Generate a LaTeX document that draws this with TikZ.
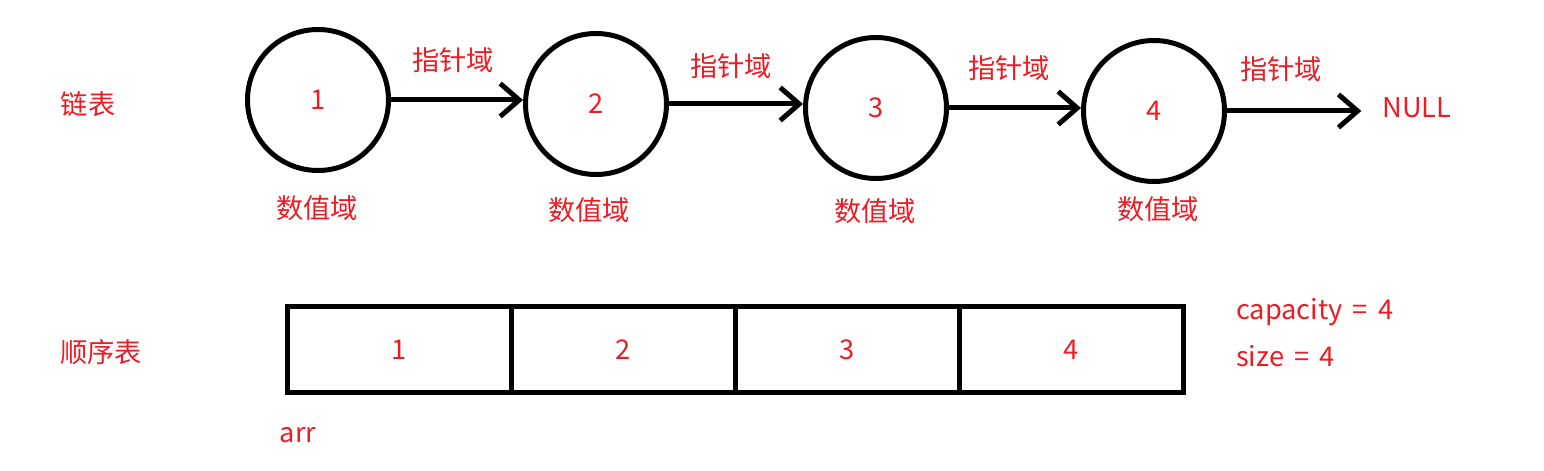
\documentclass[tikz,border=0pt]{standalone}
\usepackage{fontspec}
\newfontfamily\cjk{Noto Sans CJK SC}
\usetikzlibrary{arrows.meta,positioning}
\definecolor{labelred}{RGB}{237,28,36}
\begin{document}
\begin{tikzpicture}[
			every node/.style={font=\cjk\fontsize{15.5}{18}\selectfont,text=labelred},
			listnode/.style={circle,draw,line width=0.1cm,minimum size=2.82cm,inner sep=0pt},
			cell/.style={rectangle,draw,line width=0.1cm,minimum width=4.48cm,minimum height=1.72cm,inner sep=0pt},
			link/.style={line width=0.1cm,-{Straight Barb[length=0.38cm,width=0.66cm,line width=0.1cm]}}
		]
		\useasboundingbox (0,0) rectangle (30.88,-9.42);
		% linked list
		\node (listtitle) at (1.76,-2.08) {链表};
		\node[listnode] (c1) at (6.36,-2.0) {1};
		\node[listnode] (c2) at (11.92,-2.08) {2};
		\node[listnode] (c3) at (17.52,-2.16) {3};
		\node[listnode] (c4) at (23.08,-2.22) {4};
		\node (null) at (28.34,-2.16) {NULL};
		\draw[link] (c1.east) -- (c1.east -| c2.west);
		\draw[link] (c2.east) -- (c2.east -| c3.west);
		\draw[link] (c3.east) -- (c3.east -| c4.west);
		\draw[link,shorten >=0.3cm] (c4.east) -- (c4.east -| null.west);
		\node (p1) at (9.06,-1.2) {指针域};
		\node (p2) at (14.62,-1.32) {指针域};
		\node (p3) at (20.18,-1.36) {指针域};
		\node (p4) at (25.62,-1.38) {指针域};
		\node (v1) at (6.34,-4.16) {数值域};
		\node (v2) at (11.78,-4.2) {数值域};
		\node (v3) at (17.5,-4.22) {数值域};
		\node (v4) at (23.16,-4.18) {数值域};
		% sequential list
		\node (arraytitle) at (2.02,-7.04) {顺序表};
		\node[cell] (a1) at (7.98,-6.99) {1};
		\node[cell] (a2) at (12.46,-6.99) {2};
		\node[cell] (a3) at (16.94,-6.99) {3};
		\node[cell] (a4) at (21.42,-6.99) {4};
		\node (arr) at (5.96,-8.7) {arr};
		\node[anchor=west] (capacity) at (24.6,-6.24) {capacity\hspace{0.15em} =\hspace{0.15em} 4};
		\node[anchor=west] (size) at (24.6,-7.12) {size\hspace{0.15em} =\hspace{0.15em} 4};
	\end{tikzpicture}
\end{document}
